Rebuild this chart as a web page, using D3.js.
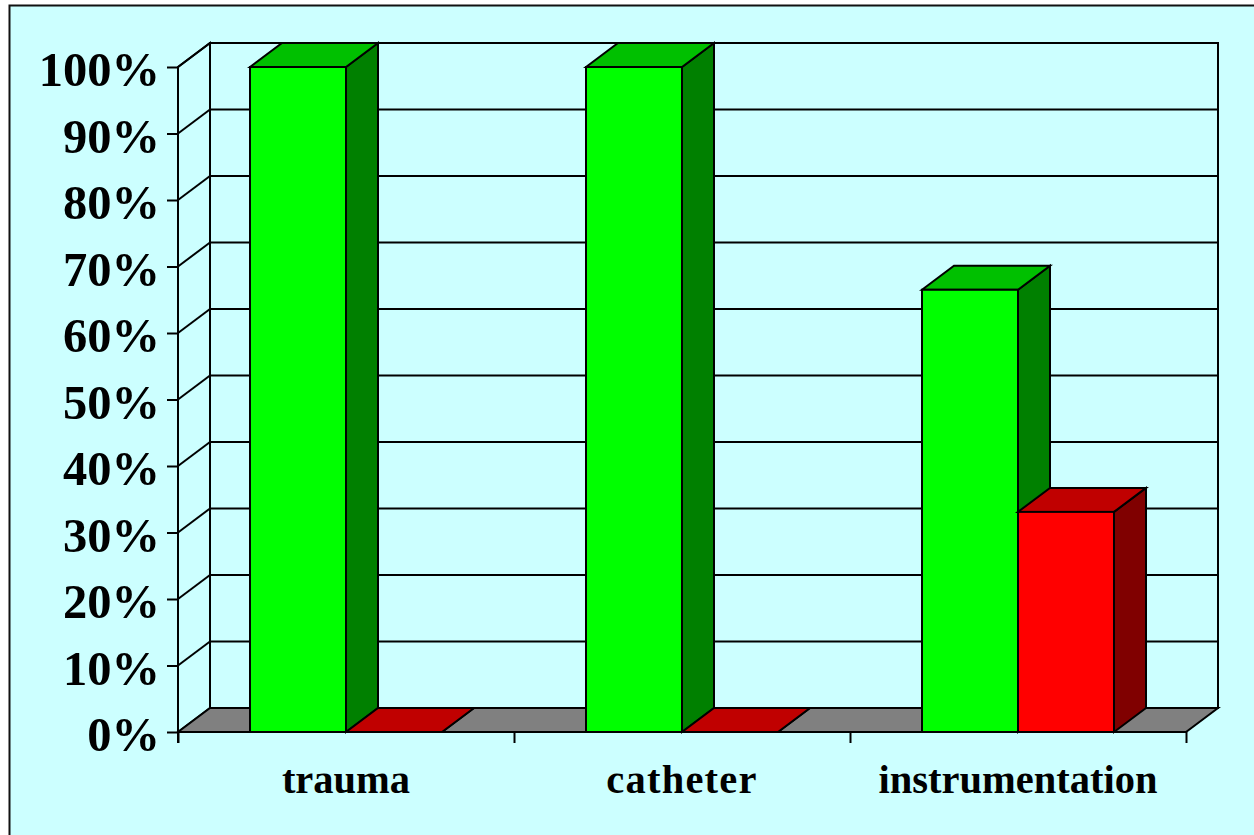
<!DOCTYPE html>
<html>
<head>
<meta charset="utf-8">
<script src="https://cdn.jsdelivr.net/npm/d3@7/dist/d3.min.js"></script>
<style>
html,body{margin:0;padding:0;background:#fff;overflow:hidden}
svg{display:block}
</style>
</head>
<body>
<svg id="c" width="1254" height="835"></svg>
<script>
const categories = ["trauma", "catheter", "instrumentation"];
const seriesNames = ["positive", "negative"];
const positive = [100, 100, 66.5];
const negative = [0, 0, 33.1];
const yTicks = [0, 10, 20, 30, 40, 50, 60, 70, 80, 90, 100];

const palette = {
  positive: {front: "#00FF00", top: "#00C000", side: "#008000"},
  negative: {front: "#FF0000", top: "#C00000", side: "#800000"}
};
const values = {positive, negative};

const svg = d3.select("#c");
const W = 1254, H = 835;
const L = 178, R = 1186, B = 732, T = 67;
const dx = 32, dy = 24;
const lw = 2;

const y = d3.scaleLinear().domain([0, 100]).range([B, T]);
const x0 = d3.scaleBand().domain(categories).range([L, R]);
const x1 = d3.scaleBand().domain(seriesNames).range([0, x0.bandwidth()])
  .paddingInner(0).paddingOuter(0.75);

const poly = pts => pts.map(p => p.join(",")).join(" ");
const line = (g, a, b, c, d) => g.append("line")
  .attr("x1", a).attr("y1", b).attr("x2", c).attr("y2", d)
  .attr("stroke", "#000").attr("stroke-width", lw);

// panel
svg.append("rect").attr("x", 9.5).attr("y", 5.5).attr("width", W + 10).attr("height", H + 10)
  .attr("fill", "#CCFFFF").attr("stroke", "#111").attr("stroke-width", 2);

const walls = svg.append("g");
// back and side wall
walls.append("polygon").attr("points", poly([[L, B], [L + dx, B - dy], [L + dx, T - dy], [L, T]]))
  .attr("fill", "#CCFFFF").attr("stroke", "#000").attr("stroke-width", lw);
walls.append("rect").attr("x", L + dx).attr("y", T - dy).attr("width", R - L).attr("height", B - T)
  .attr("fill", "#CCFFFF").attr("stroke", "#000").attr("stroke-width", lw);
// floor
walls.append("polygon").attr("points", poly([[L, B], [L + dx, B - dy], [R + dx, B - dy], [R, B]]))
  .attr("fill", "#808080").attr("stroke", "#000").attr("stroke-width", lw);
// gridlines
yTicks.filter(t => t > 0).forEach(t => {
  line(walls, L, y(t), L + dx, y(t) - dy);
  line(walls, L + dx, y(t) - dy, R + dx, y(t) - dy);
});

// bars
const bars = svg.append("g").attr("stroke", "#000").attr("stroke-width", lw).attr("stroke-linejoin", "miter");
categories.forEach((c, i) => {
  seriesNames.forEach(s => {
    const v = values[s][i], col = palette[s];
    const xa = x0(c) + x1(s), xb = xa + x1.bandwidth(), yt = y(v), yb = y(0);
    bars.append("polygon").attr("fill", col.side)
      .attr("points", poly([[xb, yb], [xb + dx, yb - dy], [xb + dx, yt - dy], [xb, yt]]));
    bars.append("polygon").attr("fill", col.top)
      .attr("points", poly([[xa, yt], [xa + dx, yt - dy], [xb + dx, yt - dy], [xb, yt]]));
    bars.append("rect").attr("fill", col.front)
      .attr("x", xa).attr("y", yt).attr("width", xb - xa).attr("height", yb - yt);
  });
});

// axes
const fontFam = "'Liberation Serif','Times New Roman',serif";
const yAxis = d3.axisLeft(y).tickValues(yTicks).tickFormat(d => d + "%").tickSize(11).tickPadding(7);
const gy = svg.append("g").attr("transform", `translate(${L},0)`).call(yAxis);
const xEdges = d3.scaleLinear().domain([0, categories.length]).range([L, R]);
const xAxis = d3.axisBottom(xEdges).tickValues(d3.range(categories.length + 1)).tickFormat("").tickSize(11);
const gx = svg.append("g").attr("transform", `translate(0,${B})`).call(xAxis);
[gy, gx].forEach(g => {
  g.selectAll("path.domain").attr("stroke", "#000").attr("stroke-width", lw);
  g.selectAll("line").attr("stroke", "#000").attr("stroke-width", lw);
});
gy.select("path.domain").attr("d", `M0,${T}V${B + 11}`);
gx.select("path.domain").attr("d", `M${L},0H${R}`);
gy.selectAll("text").attr("font-family", fontFam).attr("font-weight", "bold")
  .attr("font-size", 48.5).attr("fill", "#000").attr("dy", "0.39em");

const labelFontSize = 40.5;
const labelTracking = {trauma: 0, catheter: 1.2, instrumentation: 0};
const gc = svg.append("g");
gc.selectAll("text").data(categories).join("text")
  .attr("x", d => x0(d) + x0.bandwidth() / 2).attr("y", 792.5)
  .attr("text-anchor", "middle").attr("font-family", fontFam).attr("font-weight", "bold")
  .attr("font-size", labelFontSize).attr("letter-spacing", d => labelTracking[d]).attr("fill", "#000").text(d => d);
</script>
</body>
</html>
